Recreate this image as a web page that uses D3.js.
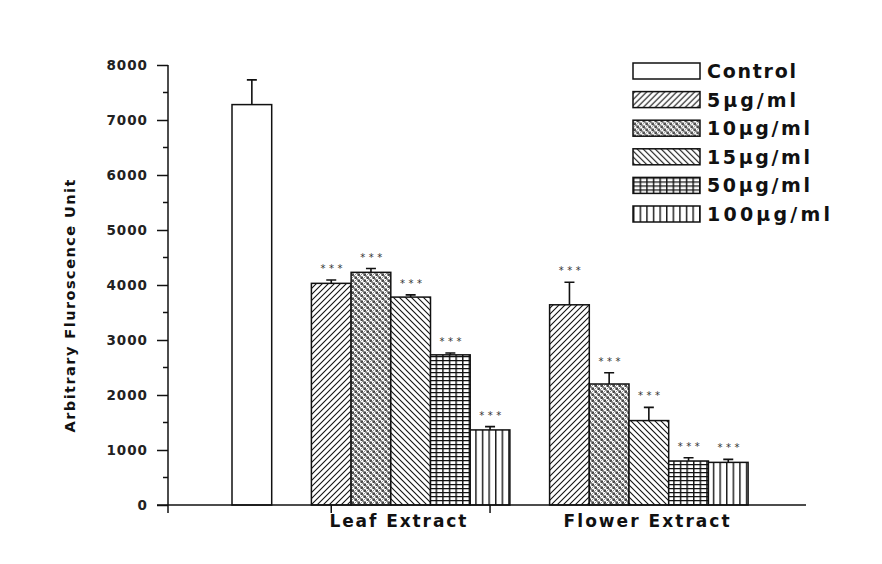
<!DOCTYPE html>
<html>
<head>
<script src="https://cdn.jsdelivr.net/npm/d3@7"></script>
<style>
	body { margin: 0; background: #fff; }
	svg { display: block; }
	text { font-family: "DejaVu Sans", sans-serif; }
</style>
</head>
<body>
<div id="container"></div>
<script>
	const width = 882, height = 564;

	// ---- data ----
	const series = ["Control", "5µg/ml", "10µg/ml", "15µg/ml", "50µg/ml", "100µg/ml"];
	const extracts = ["Leaf Extract", "Flower Extract"];
	const controlValue = 7280, controlError = 450;
	const leafValues = [4030, 4230, 3780, 2730, 1365];
	const leafErrors = [60, 70, 40, 35, 60];
	const flowerValues = [3640, 2200, 1535, 800, 775];
	const flowerErrors = [410, 205, 240, 60, 55];
	const yTicks = [0, 1000, 2000, 3000, 4000, 5000, 6000, 7000, 8000];
	const patternIds = ["none", "p5", "p10", "p15", "p50", "p100"];

	// rows: one per bar, plus empty slots between the groups
	var rows = [{key: "Control", s: 0, v: controlValue, e: controlError, stars: false}];
	rows.push({key: "gap-a"});
	leafValues.forEach(function(v, i){ rows.push({key: "Leaf|" + series[i+1], s: i+1, v: v, e: leafErrors[i], stars: true}); });
	rows.push({key: "gap-b"});
	flowerValues.forEach(function(v, i){ rows.push({key: "Flower|" + series[i+1], s: i+1, v: v, e: flowerErrors[i], stars: true}); });
	var bars = rows.filter(function(d){ return d.v != null; });

	const x = d3.scaleBand().domain(rows.map(d => d.key)).range([232, 232 + 13 * 39.7]).padding(0);
	const y = d3.scaleLinear().domain([0, 8000]).range([505, 65]);

	var svg = d3.select("#container").append("svg").attr("width", width).attr("height", height);
	svg.append("rect").attr("width", width).attr("height", height).attr("fill", "#fff");

	/*********************** PATTERNS ***********************/
	var defs = svg.append("defs");
	function pat(id, w, h){
		return defs.append("pattern").attr("id", id).attr("patternUnits", "userSpaceOnUse")
			.attr("width", w).attr("height", h);
	}
	var p;
	p = pat("p5", 6, 6);
	p.append("rect").attr("width", 6).attr("height", 6).attr("fill", "#fff");
	p.append("path").attr("d", "M0,6L6,0M-1,1L1,-1M5,7L7,5").attr("stroke", "#111").attr("stroke-width", 1.1);

	p = pat("p15", 6, 6);
	p.append("rect").attr("width", 6).attr("height", 6).attr("fill", "#fff");
	p.append("path").attr("d", "M0,0L6,6M-1,5L1,7M5,-1L7,1").attr("stroke", "#111").attr("stroke-width", 1.1);

	p = pat("p10", 6, 6);
	p.append("rect").attr("width", 6).attr("height", 6).attr("fill", "#fff");
	p.append("rect").attr("x", 0.5).attr("y", 0.5).attr("width", 2.3).attr("height", 2.3).attr("fill", "#111");
	p.append("rect").attr("x", 3.5).attr("y", 3.5).attr("width", 2.3).attr("height", 2.3).attr("fill", "#111");
	p.append("path").attr("d", "M0,6L6,0M0,0L6,6").attr("stroke", "#666").attr("stroke-width", 0.7);

	p = pat("p50", 6.6, 4);
	p.append("rect").attr("width", 6.6).attr("height", 4).attr("fill", "#fff");
	p.append("path").attr("d", "M0.75,0V4M0,0.5H6.6").attr("stroke", "#111").attr("stroke-width", 1.4);

	p = pat("p100", 6.6, 4);
	p.append("rect").attr("width", 6.6).attr("height", 4).attr("fill", "#fff");
	p.append("path").attr("d", "M0.75,0V4").attr("stroke", "#111").attr("stroke-width", 1.4);

	function fillOf(s){ return s == 0 ? "#fff" : "url(#" + patternIds[s] + ")"; }

	/*********************** BARS ***********************/
	var g = svg.append("g");
	g.selectAll("rect.bar").data(bars).enter().append("rect").attr("class", "bar")
		.attr("x", d => x(d.key)).attr("y", d => y(d.v))
		.attr("width", x.bandwidth()).attr("height", d => y(0) - y(d.v))
		.attr("fill", d => fillOf(d.s)).attr("stroke", "#111").attr("stroke-width", 1.5);

	// error bars (upper only)
	g.selectAll("path.err").data(bars).enter().append("path").attr("class", "err")
		.attr("d", function(d){
			var cx = x(d.key) + x.bandwidth() / 2;
			return "M" + cx + "," + y(d.v) + "V" + y(d.v + d.e) + "M" + (cx - 5) + "," + y(d.v + d.e) + "H" + (cx + 5);
		})
		.attr("stroke", "#111").attr("stroke-width", 1.6).attr("fill", "none");

	g.selectAll("text.star").data(bars.filter(d => d.stars)).enter().append("text").attr("class", "star")
		.attr("x", d => x(d.key) + x.bandwidth() / 2 + 2).attr("y", d => y(d.v + d.e) - 8)
		.attr("text-anchor", "middle").attr("font-size", 10).attr("letter-spacing", 3.5)
		.attr("fill", "#333").text("***");

	/*********************** AXES ***********************/
	var yAxis = d3.axisLeft(y).tickValues(yTicks).tickSize(11).tickPadding(9).tickFormat(d3.format("d"));
	var ga = svg.append("g").attr("transform", "translate(168,0)").call(yAxis);
	ga.select(".domain").attr("d", "M0," + y(8000) + "V" + y(0)).attr("stroke", "#111").attr("stroke-width", 1.5);
	ga.selectAll(".tick line").attr("stroke", "#111").attr("stroke-width", 1.5);
	ga.selectAll(".tick text").attr("font-family", "DejaVu Sans").attr("font-size", 13.5)
		.attr("font-weight", "bold").attr("letter-spacing", 1).attr("fill", "#222");
	// minor ticks
	ga.selectAll("line.minor").data(d3.range(500, 8000, 1000)).enter().append("line").attr("class", "minor")
		.attr("x1", -5).attr("x2", 0).attr("y1", d => y(d)).attr("y2", d => y(d))
		.attr("stroke", "#111").attr("stroke-width", 1.5);

	// x axis line with ticks at the leaf bars
	var gx = svg.append("g");
	gx.append("line").attr("x1", 157).attr("x2", 806).attr("y1", y(0)).attr("y2", y(0))
		.attr("stroke", "#111").attr("stroke-width", 1.5);
	gx.selectAll("line.xt").data([168, x("Leaf|5µg/ml") + x.bandwidth() / 2, x("Leaf|100µg/ml") + x.bandwidth() / 2])
		.enter().append("line").attr("class", "xt")
		.attr("x1", d => d).attr("x2", d => d).attr("y1", y(0)).attr("y2", y(0) + 8)
		.attr("stroke", "#111").attr("stroke-width", 1.5);

	var labelStart = [x("Leaf|5µg/ml") + 18, x("Flower|5µg/ml") + 14];
	var labelLen = [137, 166];
	gx.selectAll("text.cat").data(extracts).enter().append("text").attr("class", "cat")
		.attr("x", (d, i) => labelStart[i]).attr("y", 527)
		.attr("textLength", (d, i) => labelLen[i]).attr("lengthAdjust", "spacing")
		.attr("font-size", 17).attr("font-weight", "bold").attr("fill", "#111").text(d => d);

	svg.append("text").attr("transform", "translate(75,306) rotate(-90)").attr("text-anchor", "middle")
		.attr("textLength", 253).attr("lengthAdjust", "spacing")
		.attr("font-size", 14.5).attr("font-weight", "bold").attr("fill", "#111")
		.text("Arbitrary Fluroscence Unit");

	/*********************** LEGEND ***********************/
	var legendLen = [89, 89, 103, 103, 103, 123];
	var lg = svg.append("g").selectAll("g").data(series).enter().append("g")
		.attr("transform", (d, i) => "translate(633," + (71 + i * 28.6) + ")");
	lg.append("rect").attr("x", 0).attr("y", -8).attr("width", 67).attr("height", 16)
		.attr("fill", (d, i) => fillOf(i)).attr("stroke", "#111").attr("stroke-width", 1.5);
	lg.append("text").attr("x", 74).attr("y", 7).attr("font-size", 19).attr("font-weight", "bold")
		.attr("textLength", (d, i) => legendLen[i]).attr("lengthAdjust", "spacing")
		.attr("fill", "#111").text(d => d);
</script>
</body>
</html>
